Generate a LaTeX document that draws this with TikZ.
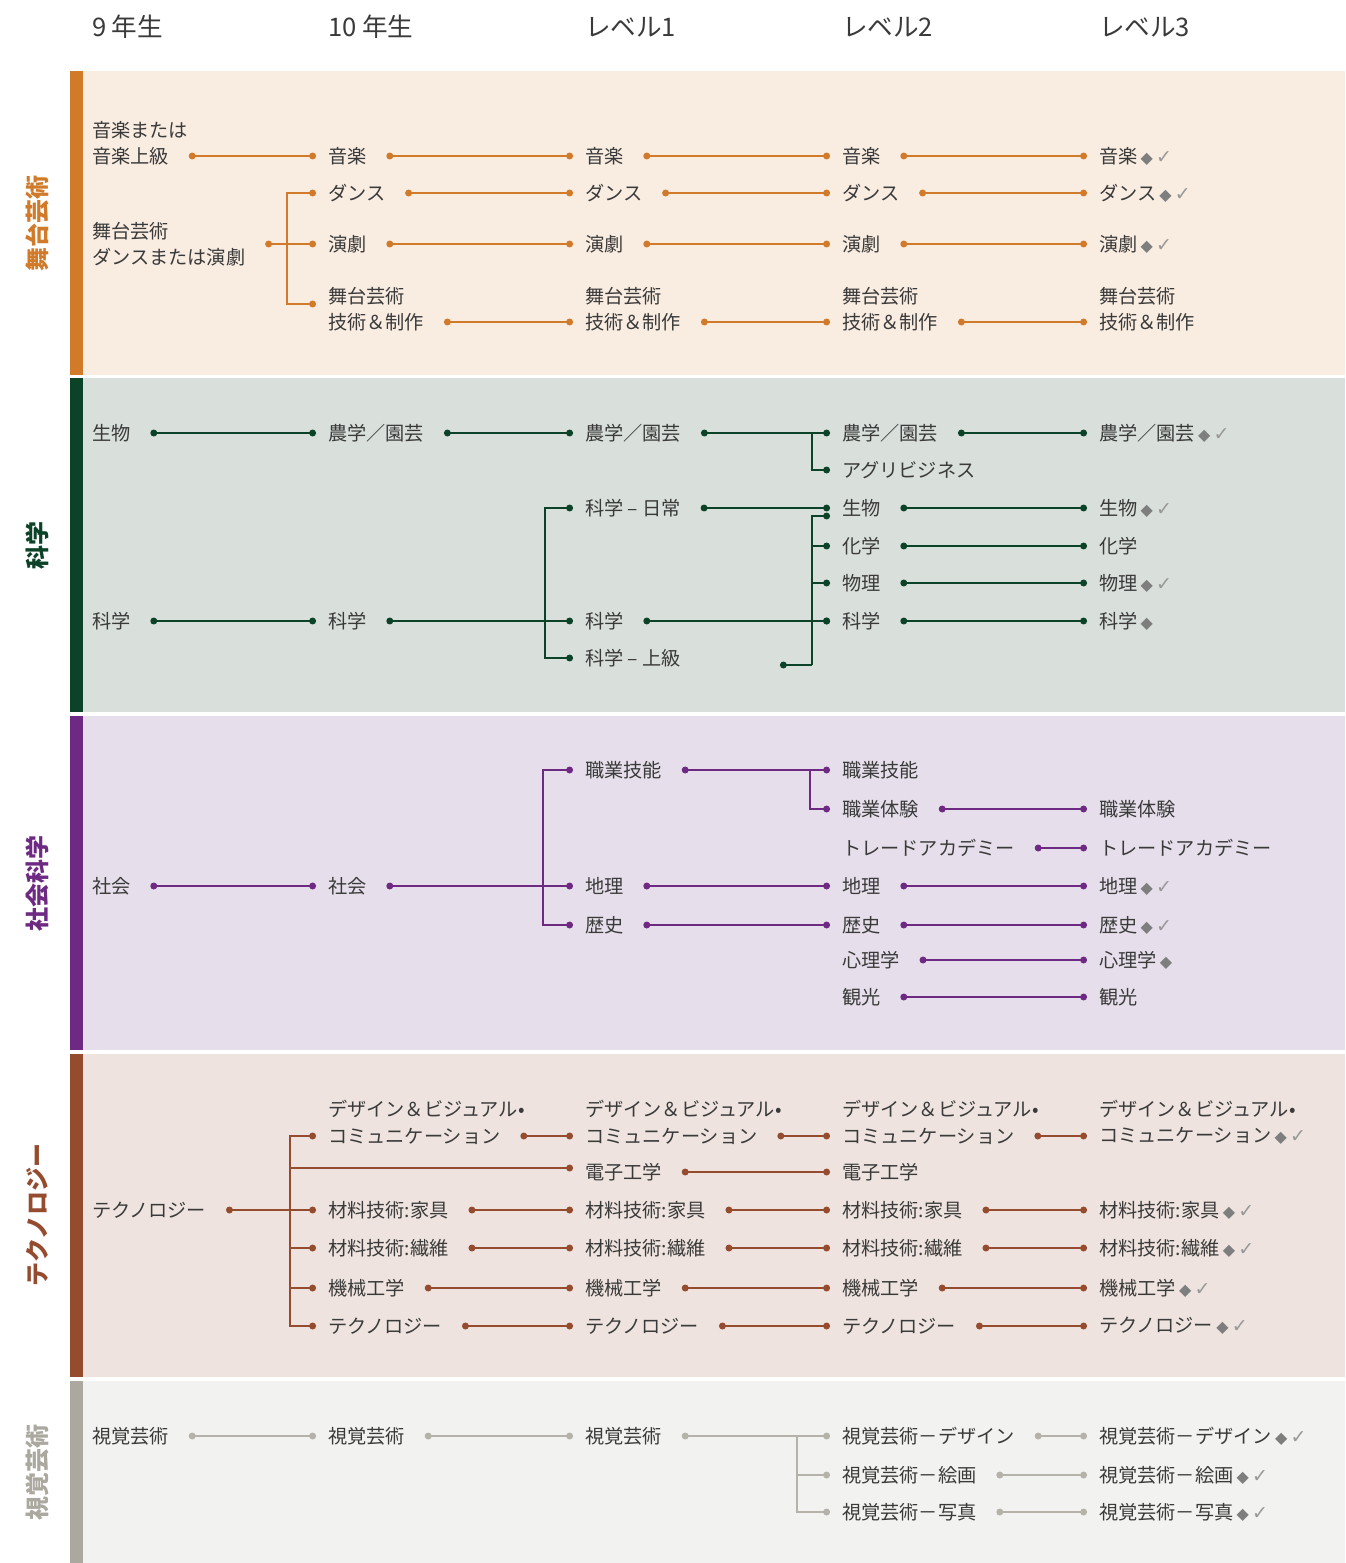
\documentclass[tikz,border=0pt]{standalone}
\usepackage{fontspec}
\setmainfont{Noto Sans CJK JP}
\newfontfamily\symfont{DejaVu Sans}
\usetikzlibrary{arrows.meta}

\definecolor{txt}{HTML}{3A3A3A}
\definecolor{markgray}{HTML}{7E7E7E}
\definecolor{pacol}{HTML}{D07A2A}
\definecolor{paband}{HTML}{F9ECE1}
\definecolor{scicol}{HTML}{0B4228}
\definecolor{sciband}{HTML}{D9DFDB}
\definecolor{soccol}{HTML}{6E2A82}
\definecolor{socband}{HTML}{E6DFEB}
\definecolor{teccol}{HTML}{944B2E}
\definecolor{tecband}{HTML}{EEE3DE}
\definecolor{vacol}{HTML}{ABA89F}
\definecolor{valine}{HTML}{B5B2A9}
\definecolor{vaband}{HTML}{F2F2F0}

\newcommand{\dmd}{{\symfont\color{markgray}\fontsize{8}{8}\selectfont ◆}}
\newcommand{\chk}{{\symfont\color{markgray!80}\fontsize{9.5}{9.5}\selectfont ✓}}

\begin{document}
\begin{tikzpicture}[x=0.5pt, y=-0.5pt,
  every node/.style={inner sep=0pt, outer sep=0pt, text=txt, font=\fontsize{9.6}{13}\selectfont},
  item/.style={anchor=west},
  head/.style={anchor=west, font=\fontsize{12.8}{14}\selectfont},
  side/.style={rotate=90, text=#1, font=\bfseries\fontsize{12}{12}\selectfont},
  lk/.style={draw=#1, line width=1.1pt},
  link/.style={lk=#1, {Circle[length=3.4pt]}-{Circle[length=3.4pt]}, shorten <=10pt, shorten >=6pt},
  todot/.style={lk=#1, -{Circle[length=3.4pt]}, shorten >=6pt},
  fromdot/.style={lk=#1, {Circle[length=3.4pt]}-, shorten <=10pt}]

  \useasboundingbox (0,0) rectangle (1345,1563);

  \node[head] (h9) at (92,27) {9 年生};
  \node[head] (h10) at (328,27) {10 年生};
  \node[head] (lv1) at (585,27) {レベル1};
  \node[head] (lv2) at (842,27) {レベル2};
  \node[head] (lv3) at (1099,27) {レベル3};

  % performing arts
  \fill[paband] (70,71) rectangle (1345,375);
  \fill[pacol] (70,71) rectangle (83,375);
  \node[side=pacol] (sidePA) at (37,223) {舞台芸術};

  \node[item] (mus1a) at (92,130) {音楽または};
  \node[item] (mus1) at (92,156) {音楽上級};
  \node[item, align=left] (stg1) at (92,244) {舞台芸術\\ダンスまたは演劇};
  \node[item] (mus2) at (328,156) {音楽};
  \node[item] (dan2) at (328,193) {ダンス};
  \node[item] (dra2) at (328,244) {演劇};
  \node[item] (tp2a) at (328,296) {舞台芸術};
  \node[item] (tp2) at (328,322) {技術＆制作};
  \node[item] (mus3) at (585,156) {音楽};
  \node[item] (dan3) at (585,193) {ダンス};
  \node[item] (dra3) at (585,244) {演劇};
  \node[item] (tp3a) at (585,296) {舞台芸術};
  \node[item] (tp3) at (585,322) {技術＆制作};
  \node[item] (mus4) at (842,156) {音楽};
  \node[item] (dan4) at (842,193) {ダンス};
  \node[item] (dra4) at (842,244) {演劇};
  \node[item] (tp4a) at (842,296) {舞台芸術};
  \node[item] (tp4) at (842,322) {技術＆制作};
  \node[item] (mus5) at (1099,156) {音楽\,\dmd\,\chk};
  \node[item] (dan5) at (1099,193) {ダンス\,\dmd\,\chk};
  \node[item] (dra5) at (1099,244) {演劇\,\dmd\,\chk};
  \node[item] (tp5a) at (1099,296) {舞台芸術};
  \node[item] (tp5) at (1099,322) {技術＆制作};

  \coordinate (jPA) at (287,244);
  \draw[link=pacol] (mus1.east) -- (mus2.west);
  \draw[fromdot=pacol] (stg1.east) -- (jPA);
  \draw[todot=pacol] (jPA) |- (dan2.west);
  \draw[todot=pacol] (jPA) -- (dra2.west);
  \draw[todot=pacol] (jPA) |- ([yshift=-4pt]tp2a.west);
  \draw[link=pacol] (mus2.east) -- (mus3.west);
  \draw[link=pacol] (dan2.east) -- (dan3.west);
  \draw[link=pacol] (dra2.east) -- (dra3.west);
  \draw[link=pacol] (tp2.east) -- (tp3.west);
  \draw[link=pacol] (mus3.east) -- (mus4.west);
  \draw[link=pacol] (dan3.east) -- (dan4.west);
  \draw[link=pacol] (dra3.east) -- (dra4.west);
  \draw[link=pacol] (tp3.east) -- (tp4.west);
  \draw[link=pacol] (mus4.east) -- (mus5.west);
  \draw[link=pacol] (dan4.east) -- (dan5.west);
  \draw[link=pacol] (dra4.east) -- (dra5.west);
  \draw[link=pacol] (tp4.east) -- (tp5.west);

  % science
  \fill[sciband] (70,378) rectangle (1345,712);
  \fill[scicol] (70,378) rectangle (83,712);
  \node[side=scicol] (sideSC) at (37,545) {科学};

  \node[item] (bio1) at (92,433) {生物};
  \node[item] (sc1) at (92,621) {科学};
  \node[item] (agr2) at (328,433) {農学／園芸};
  \node[item] (sc2) at (328,621) {科学};
  \node[item] (agr3) at (585,433) {農学／園芸};
  \node[item] (scd3) at (585,508) {科学 – 日常};
  \node[item] (sc3) at (585,621) {科学};
  \node[item] (sca3) at (585,658) {科学 – 上級};
  \node[item] (agr4) at (842,433) {農学／園芸};
  \node[item] (agb4) at (842,470) {アグリビジネス};
  \node[item] (bio4) at (842,508) {生物};
  \node[item] (che4) at (842,546) {化学};
  \node[item] (phy4) at (842,583) {物理};
  \node[item] (sc4) at (842,621) {科学};
  \node[item] (agr5) at (1099,433) {農学／園芸\,\dmd\,\chk};
  \node[item] (bio5) at (1099,508) {生物\,\dmd\,\chk};
  \node[item] (che5) at (1099,546) {化学};
  \node[item] (phy5) at (1099,583) {物理\,\dmd\,\chk};
  \node[item] (sc5) at (1099,621) {科学\,\dmd};

  \coordinate (jSC1) at (545,621);
  \coordinate (jSC2) at (812,433);
  \coordinate (jSC3) at (812,665);
  \coordinate (scEnd) at (780,665);
  \draw[link=scicol] (bio1.east) -- (agr2.west);
  \draw[link=scicol] (sc1.east) -- (sc2.west);
  \draw[link=scicol] (agr2.east) -- (agr3.west);
  \draw[link=scicol] (sc2.east) -- (sc3.west);
  \draw[todot=scicol] (jSC1) |- (scd3.west);
  \draw[todot=scicol] (jSC1) |- (sca3.west);
  \draw[link=scicol] (agr3.east) -- (agr4.west);
  \draw[todot=scicol] (jSC2) |- (agb4.west);
  \draw[link=scicol] (scd3.east) -- (bio4.west);
  \draw[link=scicol] (sc3.east) -- (sc4.west);
  \draw[lk=scicol, {Circle[length=3.4pt]}-] (scEnd) -- (jSC3);
  \draw[todot=scicol] (jSC3) |- ([yshift=-4pt]bio4.west);
  \draw[todot=scicol] (jSC3) |- (che4.west);
  \draw[todot=scicol] (jSC3) |- (phy4.west);
  \draw[todot=scicol] (jSC3) |- (sc4.west);
  \draw[link=scicol] (agr4.east) -- (agr5.west);
  \draw[link=scicol] (bio4.east) -- (bio5.west);
  \draw[link=scicol] (che4.east) -- (che5.west);
  \draw[link=scicol] (phy4.east) -- (phy5.west);
  \draw[link=scicol] (sc4.east) -- (sc5.west);

  % social sciences
  \fill[socband] (70,716) rectangle (1345,1050);
  \fill[soccol] (70,716) rectangle (83,1050);
  \node[side=soccol] (sideSO) at (37,883) {社会科学};

  \node[item] (so1) at (92,886) {社会};
  \node[item] (so2) at (328,886) {社会};
  \node[item] (cs3) at (585,770) {職業技能};
  \node[item] (geo3) at (585,886) {地理};
  \node[item] (his3) at (585,925) {歴史};
  \node[item] (cs4) at (842,770) {職業技能};
  \node[item] (cx4) at (842,809) {職業体験};
  \node[item] (ta4) at (842,848) {トレードアカデミー};
  \node[item] (geo4) at (842,886) {地理};
  \node[item] (his4) at (842,925) {歴史};
  \node[item] (psy4) at (842,960) {心理学};
  \node[item] (tou4) at (842,997) {観光};
  \node[item] (cx5) at (1099,809) {職業体験};
  \node[item] (ta5) at (1099,848) {トレードアカデミー};
  \node[item] (geo5) at (1099,886) {地理\,\dmd\,\chk};
  \node[item] (his5) at (1099,925) {歴史\,\dmd\,\chk};
  \node[item] (psy5) at (1099,960) {心理学\,\dmd};
  \node[item] (tou5) at (1099,997) {観光};

  \coordinate (jSO1) at (543,886);
  \coordinate (jSO2) at (810,770);
  \draw[link=soccol] (so1.east) -- (so2.west);
  \draw[link=soccol] (so2.east) -- (geo3.west);
  \draw[todot=soccol] (jSO1) |- (cs3.west);
  \draw[todot=soccol] (jSO1) |- (his3.west);
  \draw[link=soccol] (cs3.east) -- (cs4.west);
  \draw[todot=soccol] (jSO2) |- (cx4.west);
  \draw[link=soccol] (geo3.east) -- (geo4.west);
  \draw[link=soccol] (his3.east) -- (his4.west);
  \draw[link=soccol] (cx4.east) -- (cx5.west);
  \draw[link=soccol] (ta4.east) -- (ta5.west);
  \draw[link=soccol] (geo4.east) -- (geo5.west);
  \draw[link=soccol] (his4.east) -- (his5.west);
  \draw[link=soccol] (psy4.east) -- (psy5.west);
  \draw[link=soccol] (tou4.east) -- (tou5.west);

  % technology
  \fill[tecband] (70,1054) rectangle (1345,1377);
  \fill[teccol] (70,1054) rectangle (83,1377);
  \node[side=teccol] (sideTE) at (37,1215) {テクノロジー};

  \node[item] (te1) at (92,1210) {テクノロジー};
  \node[item] (dv2a) at (328,1109) {デザイン＆ビジュアル•};
  \node[item] (dv2) at (328,1136) {コミュニケーション};
  \node[item] (fu2) at (328,1210) {材料技術:家具};
  \node[item] (tx2) at (328,1248) {材料技術:繊維};
  \node[item] (me2) at (328,1288) {機械工学};
  \node[item] (te2) at (328,1326) {テクノロジー};
  \node[item] (dv3a) at (585,1109) {デザイン＆ビジュアル•};
  \node[item] (dv3) at (585,1136) {コミュニケーション};
  \node[item] (el3) at (585,1172) {電子工学};
  \node[item] (fu3) at (585,1210) {材料技術:家具};
  \node[item] (tx3) at (585,1248) {材料技術:繊維};
  \node[item] (me3) at (585,1288) {機械工学};
  \node[item] (te3) at (585,1326) {テクノロジー};
  \node[item] (dv4a) at (842,1109) {デザイン＆ビジュアル•};
  \node[item] (dv4) at (842,1136) {コミュニケーション};
  \node[item] (el4) at (842,1172) {電子工学};
  \node[item] (fu4) at (842,1210) {材料技術:家具};
  \node[item] (tx4) at (842,1248) {材料技術:繊維};
  \node[item] (me4) at (842,1288) {機械工学};
  \node[item] (te4) at (842,1326) {テクノロジー};
  \node[item] (dv5a) at (1099,1109) {デザイン＆ビジュアル•};
  \node[item] (dv5) at (1099,1136) {コミュニケーション\,\dmd\,\chk};
  \node[item] (fu5) at (1099,1210) {材料技術:家具\,\dmd\,\chk};
  \node[item] (tx5) at (1099,1248) {材料技術:繊維\,\dmd\,\chk};
  \node[item] (me5) at (1099,1288) {機械工学\,\dmd\,\chk};
  \node[item] (te5) at (1099,1326) {テクノロジー\,\dmd\,\chk};

  \coordinate (jTE) at (290,1210);
  \draw[fromdot=teccol] (te1.east) -- (jTE);
  \draw[todot=teccol] (jTE) |- (dv2.west);
  \draw[todot=teccol] (jTE) |- ([yshift=2pt]el3.west);
  \draw[todot=teccol] (jTE) -- (fu2.west);
  \draw[todot=teccol] (jTE) |- (tx2.west);
  \draw[todot=teccol] (jTE) |- (me2.west);
  \draw[todot=teccol] (jTE) |- (te2.west);
  \draw[link=teccol] (dv2.east) -- (dv3.west);
  \draw[link=teccol] (fu2.east) -- (fu3.west);
  \draw[link=teccol] (tx2.east) -- (tx3.west);
  \draw[link=teccol] (me2.east) -- (me3.west);
  \draw[link=teccol] (te2.east) -- (te3.west);
  \draw[link=teccol] (dv3.east) -- (dv4.west);
  \draw[link=teccol] (el3.east) -- (el4.west);
  \draw[link=teccol] (fu3.east) -- (fu4.west);
  \draw[link=teccol] (tx3.east) -- (tx4.west);
  \draw[link=teccol] (me3.east) -- (me4.west);
  \draw[link=teccol] (te3.east) -- (te4.west);
  \draw[link=teccol] (dv4.east) -- (dv5.west);
  \draw[link=teccol] (fu4.east) -- (fu5.west);
  \draw[link=teccol] (tx4.east) -- (tx5.west);
  \draw[link=teccol] (me4.east) -- (me5.west);
  \draw[link=teccol] (te4.east) -- (te5.west);

  % visual arts
  \fill[vaband] (70,1381) rectangle (1345,1563);
  \fill[vacol] (70,1381) rectangle (83,1563);
  \node[side=vacol] (sideVA) at (37,1472) {視覚芸術};

  \node[item] (va1) at (92,1436) {視覚芸術};
  \node[item] (va2) at (328,1436) {視覚芸術};
  \node[item] (va3) at (585,1436) {視覚芸術};
  \node[item] (vd4) at (842,1436) {視覚芸術－デザイン};
  \node[item] (vp4) at (842,1475) {視覚芸術－絵画};
  \node[item] (vh4) at (842,1512) {視覚芸術－写真};
  \node[item] (vd5) at (1099,1436) {視覚芸術－デザイン\,\dmd\,\chk};
  \node[item] (vp5) at (1099,1475) {視覚芸術－絵画\,\dmd\,\chk};
  \node[item] (vh5) at (1099,1512) {視覚芸術－写真\,\dmd\,\chk};

  \coordinate (jVA) at (797,1436);
  \draw[link=valine] (va1.east) -- (va2.west);
  \draw[link=valine] (va2.east) -- (va3.west);
  \draw[link=valine] (va3.east) -- (vd4.west);
  \draw[todot=valine] (jVA) |- (vp4.west);
  \draw[todot=valine] (jVA) |- (vh4.west);
  \draw[link=valine] (vd4.east) -- (vd5.west);
  \draw[link=valine] (vp4.east) -- (vp5.west);
  \draw[link=valine] (vh4.east) -- (vh5.west);
\end{tikzpicture}
\end{document}
